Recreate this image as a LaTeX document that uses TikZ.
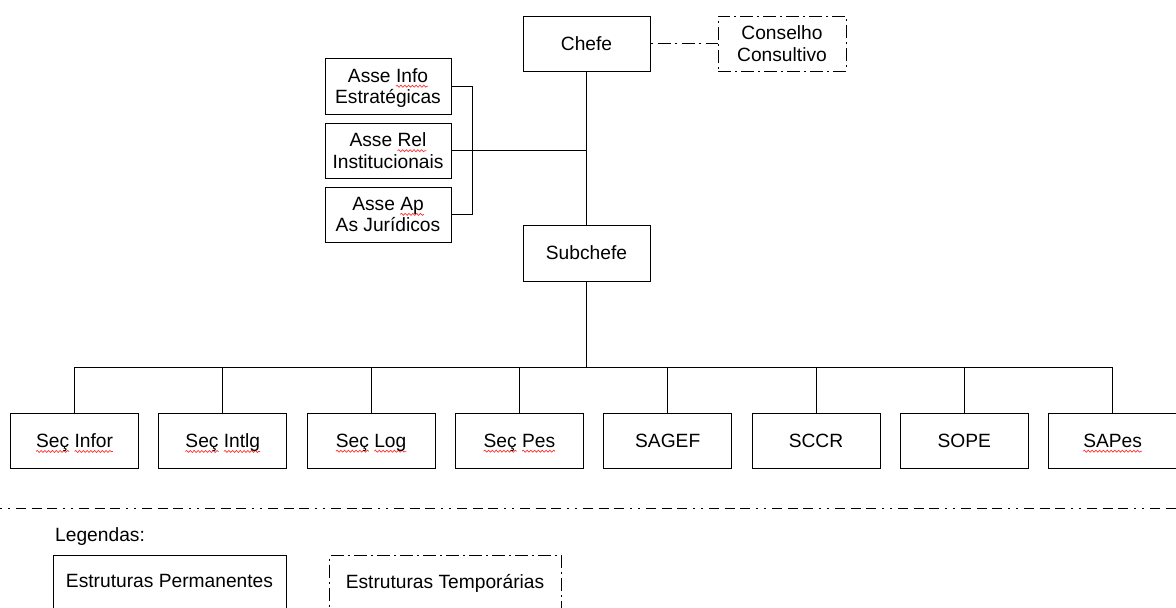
\documentclass[tikz,border=0pt]{standalone}
\usepackage{fontspec}
\setmainfont{Liberation Sans}
\usepackage{xcolor}
\usetikzlibrary{decorations.pathmorphing}
\newcommand\sqw[1]{\setbox0\hbox{#1}\rlap{\tikz[overlay, x=1pt, y=1pt, solid, line width=0.7pt]\draw[red!80, decorate, decoration={snake, amplitude=1pt, segment length=3.8pt}] (0,-4) -- (\the\wd0,-4);}\box0\relax}
\tikzset{
  box/.style={draw, line width=1pt, fill=white, minimum width=127pt, minimum height=55pt,
    inner sep=0pt, align=center, text depth=0pt, font=\fontsize{19.2}{21.5}\selectfont},
  tbox/.style={box, dash pattern=on 13pt off 4pt on 2pt off 4pt},
  conn/.style={line width=1pt},
  dconn/.style={line width=1pt, dash pattern=on 2pt off 5pt on 13pt off 4pt},
  sep/.style={line width=1pt, dash pattern=on 1.5pt off 6.5pt on 1.5pt off 6.5pt on 10pt off 5.5pt on 10pt off 5.5pt on 10pt off 6pt},
  lbl/.style={inner sep=0pt, text depth=0pt, font=\fontsize{19.2}{21.5}\selectfont}
}
\begin{document}
\begin{tikzpicture}[x=1pt, y=-1pt]
\useasboundingbox (0,0) rectangle (1176,608);
\begin{scope}
\clip (0,0) rectangle (1176,608);
% top
\node[box] (chefe) at (586.5,43.5) {Chefe};
\node[tbox, minimum width=128pt] (cons) at (782,43.5) {Conselho\\Consultivo};
\node[box, minimum width=126pt, minimum height=56pt] (info) at (388,86) {Asse \sqw{Info}\\Estratégicas};
\node[box, minimum width=126pt] (rel) at (388,150.5) {Asse \sqw{Rel}\\Institucionais};
\node[box, minimum width=126pt] (ap) at (388,214.5) {Asse \sqw{Ap}\\As Jurídicos};
\node[box, minimum height=56pt] (sub) at (586.5,253) {Subchefe};
% bottom row
\node[box, minimum width=128pt] (b1) at (74.5,440.5) {\sqw{Seç} \sqw{Infor}};
\node[box, minimum width=128pt] (b2) at (222.8,440.5) {\sqw{Seç} \sqw{Intlg}};
\node[box, minimum width=128pt] (b3) at (371.1,440.5) {\sqw{Seç} \sqw{Log}};
\node[box, minimum width=128pt] (b4) at (519.4,440.5) {\sqw{Seç} \sqw{Pes}};
\node[box, minimum width=128pt] (b5) at (667.7,440.5) {SAGEF};
\node[box, minimum width=128pt] (b6) at (816,440.5) {SCCR};
\node[box, minimum width=128pt] (b7) at (964.3,440.5) {SOPE};
\node[box, minimum width=128pt] (b8) at (1112.6,440.5) {\sqw{SAPes}};
% connectors
\draw[conn] (chefe.south) -- (sub.north);
\draw[conn] (rel.east) -- (rel.east -| chefe.south);
\draw[conn] (info.east) -- ++(21,0) |- (ap.east);
\draw[dconn] (chefe.east) -- (cons.west);
\coordinate (bus) at (586.5,367);
\draw[conn] (sub.south) -- (bus);
\draw[conn] (b1.north) -- (b1.north |- bus) -- (b8.north |- bus) -- (b8.north);
\foreach \i in {2,...,7} \draw[conn] (b\i.north) -- (b\i.north |- bus);
% separator
\coordinate (sepL) at (0,508);
\coordinate (sepR) at (1176,508);
\draw[sep] (sepL) -- (sepR);
% legend
\node[lbl, anchor=west] (leg) at (55,535) {Legendas:};
\node[box, minimum width=233pt, minimum height=56pt, anchor=north west] (perm) at (53,555) {};
\node[lbl] (permt) at (169.5,581) {Estruturas Permanentes};
\node[tbox, minimum width=232pt, minimum height=56pt, anchor=north west] (temp) at (329,555) {};
\node[lbl] (tempt) at (445,581) {Estruturas Temporárias};
\end{scope}
\end{tikzpicture}
\end{document}
